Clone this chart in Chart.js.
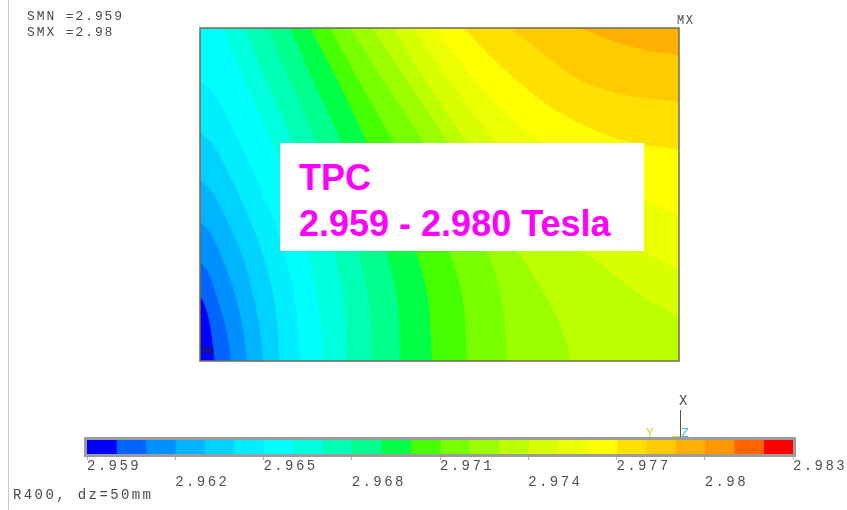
<!DOCTYPE html>
<html>
<head>
<meta charset="utf-8">
<script src="https://cdn.jsdelivr.net/npm/chart.js@4.4.1/dist/chart.umd.min.js"></script>
<style>
  html, body { margin: 0; padding: 0; background: #fff; }
  #wrap { position: relative; width: 847px; height: 510px; overflow: hidden; }
  canvas { position: absolute; left: 0; top: 0; }
  .t { position: absolute; white-space: pre; line-height: 1; font-family: "Liberation Mono", "DejaVu Sans Mono", monospace; color: #4a4a4a; }
  .rule { position: absolute; }
  #note { position: absolute; left: 280px; top: 143px; width: 364px; height: 108px; background: #fff; }
  #note div { position: absolute; left: 19px; white-space: pre; line-height: 36px; font: bold 36px "Liberation Sans", Arial, sans-serif; color: #ff00ff; }
</style>
</head>
<body>
<div id="wrap">
  <canvas id="field" width="847" height="510"></canvas>
  <canvas id="scale" width="847" height="510"></canvas>

  <div class="rule" style="left:8px;top:0;width:1px;height:510px;background:#c8c8c8"></div>
  <div class="t" style="left:27px;top:10px;font-size:13px;letter-spacing:1.9px">SMN =2.959</div>
  <div class="t" style="left:27px;top:26px;font-size:13px;letter-spacing:1.9px">SMX =2.98</div>
  <div class="t" style="left:677px;top:15px;font-size:12px;letter-spacing:1.5px">MX</div>
  <div class="t" style="left:202px;top:347px;font-size:10px;color:#2a2a2a">MN</div>
  <div class="t" style="left:13px;top:488px;font-size:14px;letter-spacing:2.4px">R400, dz=50mm</div>

  <!-- axis triad -->
  <div class="t" style="left:679px;top:394px;font-size:14px">X</div>
  <div class="rule" style="left:680px;top:410px;width:1px;height:27px;background:#555"></div>
  <div class="rule" style="left:672px;top:436px;width:8px;height:1px;background:#c8e632"></div>
  <div class="t" style="left:646px;top:427px;font-size:13px;color:#c8e632">Y</div>
  <div class="t" style="left:681px;top:427px;font-size:13px;color:#4cb4ec">Z</div>

  <div id="note">
    <div style="top:13.5px">TPC</div>
    <div style="top:59.5px">2.959 - 2.980 Tesla</div>
  </div>
</div>

<script>
// |B| contour steps (Tesla): 24 bands of 0.001 T from 2.959 to 2.983
const bandEdges = [2.959, 2.960, 2.961, 2.962, 2.963, 2.964, 2.965, 2.966, 2.967,
                   2.968, 2.969, 2.970, 2.971, 2.972, 2.973, 2.974, 2.975, 2.976,
                   2.977, 2.978, 2.979, 2.980, 2.981, 2.982, 2.983];
const bandColors = ['#0000ff', '#0064ff', '#0090ff', '#00b4ff', '#00d2ff', '#00eeff',
                    '#00ffff', '#00ffdc', '#00ffb4', '#00ff8c', '#00ff46', '#46ff00',
                    '#78ff00', '#9cff00', '#bcff00', '#d8ff00', '#ecff00', '#ffff00',
                    '#ffe100', '#ffca00', '#ffb000', '#ff9600', '#ff6400', '#ff0000'];
const tickLabels = ['2.959', '2.962', '2.965', '2.968', '2.971', '2.974', '2.977', '2.98', '2.983'];

// Plot extent: horizontal 0..479, vertical 0..333 (axis at left, mid-plane at bottom)
const extentX = [0, 479];
const extentY = [0, 333];

// Iso-lines [x, y]; everything above/right of each line is at or above its level
const iso2960 = [[0, 64], [4, 58], [8, 45], [11, 30], [13, 15], [14.5, 0]];
const iso2961 = [[0, 99], [7, 91], [14, 73], [21, 51], [27, 28], [31, 0]];
const iso2962 = [[0, 139], [10, 129], [22, 103], [33, 74], [41, 43], [47, 0]];
const iso2963 = [[0, 181], [12, 169], [27, 141], [42, 106], [53, 66], [60, 31], [63, 0]];
const iso2964 = [[0, 229], [14, 215], [32, 181], [50, 141], [65, 99], [75, 56], [80, 0]];
const iso2965 = [[0, 281], [16, 265], [36, 226], [58, 179], [78, 129], [92, 76], [98, 31], [100, 0]];
const iso2966 = [[23, 333], [40, 291], [62, 241], [84, 186], [102, 131], [115, 76], [121, 31], [123, 0]];
const iso2967 = [[45, 333], [68.5, 276], [93, 218], [114, 161], [134, 109], [144, 61], [147, 0]];
const iso2968 = [[68, 333], [92, 276], [117, 218], [139, 161], [158, 109], [169, 61], [172, 0]];
const iso2969 = [[90, 333], [115, 276], [142, 218], [165, 161], [186, 109], [197, 61], [200, 0]];
const iso2970 = [[110, 333], [140, 276], [167, 218], [193, 161], [216, 109], [228, 61], [232, 0]];
const iso2971 = [[130, 333], [161, 276], [194, 218], [223, 161], [249, 109], [263, 61], [267, 0]];
const iso2972 = [[150, 333], [186, 276], [224, 218], [257, 161], [287, 109], [302, 61], [307, 0]];
const iso2973 = [[172, 333], [210, 276], [248, 218], [284, 161], [318, 109], [348, 61], [366, 20], [370, 0]];
const iso2974 = [[193, 333], [228, 276], [268, 218], [318, 161], [383, 111], [435, 70], [479, 43]];
const iso2975 = [[213, 333], [252, 276], [297, 218], [350, 170], [410, 130], [450, 106], [479, 91]];
const iso2976 = [[233, 333], [275, 281], [325, 231], [380, 195], [435, 165], [479, 146]];
const iso2977 = [[263, 333], [305, 291], [355, 251], [415, 223], [479, 211]];
const iso2978 = [[310, 333], [345, 306], [380, 281], [425, 266], [479, 259]];
const iso2979 = [[380, 333], [410, 321], [445, 311], [479, 306]];

const isoLines = [iso2960, iso2961, iso2962, iso2963, iso2964, iso2965, iso2966,
                  iso2967, iso2968, iso2969, iso2970, iso2971, iso2972, iso2973,
                  iso2974, iso2975, iso2976, iso2977, iso2978, iso2979];

// Super-level region of a line: the line is filled up to the top edge; lines that
// reach the mid-plane are carried on below it so the fill covers the columns beyond.
const below = extentY[0] - 40;
const beyond = extentX[1] + 80;
function superLevel(line) {
  const pts = line.map(([x, y]) => ({x, y}));
  const last = line[line.length - 1];
  if (last[1] === extentY[0]) {
    pts.push({x: last[0] + 2, y: below}, {x: beyond, y: below});
  }
  return pts;
}

const fieldSets = [{
  data: [{x: extentX[0] - 40, y: below}, {x: beyond, y: below}],
  backgroundColor: bandColors[0], borderColor: bandColors[0],
  borderWidth: 0, pointRadius: 0, fill: 'end', order: 100
}];
isoLines.forEach((line, i) => {
  fieldSets.push({
    label: bandEdges[i + 1].toFixed(3),
    data: superLevel(line),
    backgroundColor: bandColors[i + 1], borderColor: bandColors[i + 1],
    borderWidth: 0, pointRadius: 0, fill: 'end', tension: 0.3,
    order: 99 - i
  });
});

const plotFrame = {
  id: 'plotFrame',
  afterDatasetsDraw(chart) {
    const {ctx, chartArea: a} = chart;
    ctx.save();
    ctx.strokeStyle = '#6f6b58';
    ctx.lineWidth = 1.5;
    ctx.strokeRect(a.left, a.top, a.right - a.left, a.bottom - a.top);
    ctx.restore();
  }
};

new Chart(document.getElementById('field'), {
  type: 'line',
  data: {datasets: fieldSets},
  options: {
    responsive: false,
    animation: false,
    events: [],
    layout: {padding: {left: 200, top: 28, right: 168, bottom: 149}},
    elements: {line: {capBezierPoints: false}},
    scales: {
      x: {type: 'linear', min: extentX[0], max: extentX[1], display: false},
      y: {type: 'linear', min: extentY[0], max: extentY[1], display: false}
    },
    plugins: {legend: {display: false}, tooltip: {enabled: false}}
  },
  plugins: [plotFrame]
});

// Colour legend: one floating bar per band along the |B| axis
const barFrame = {
  id: 'barFrame',
  beforeDraw(chart) { chart.ctx.letterSpacing = '2.4px'; },
  afterDatasetsDraw(chart) {
    const {ctx, chartArea: a} = chart;
    ctx.save();
    ctx.strokeStyle = '#9c9c9c';
    ctx.lineWidth = 3;
    ctx.strokeRect(a.left - 1.5, a.top - 1.5, a.right - a.left + 3, a.bottom - a.top + 3);
    ctx.restore();
  }
};

new Chart(document.getElementById('scale'), {
  type: 'bar',
  data: {
    labels: ['|B|'],
    datasets: bandColors.map((c, i) => ({
      data: [[bandEdges[i], bandEdges[i + 1]]],
      backgroundColor: c,
      borderWidth: 0,
      barPercentage: 1,
      categoryPercentage: 1,
      grouped: false
    }))
  },
  options: {
    indexAxis: 'y',
    responsive: false,
    animation: false,
    events: [],
    layout: {padding: {left: 87, right: 54, top: 440, bottom: 0}},
    scales: {
      x: {
        type: 'linear',
        min: bandEdges[0],
        max: bandEdges[bandEdges.length - 1],
        afterFit(scale) { scale.height = 56; scale.paddingLeft = 0; scale.paddingRight = 0; },
        border: {display: false},
        grid: {drawOnChartArea: false, drawTicks: true, tickLength: 6, color: '#b4b4b4'},
        ticks: {
          stepSize: 0.003,
          precision: 3,
          autoSkip: false,
          maxRotation: 0,
          align: 'start',
          padding: -2,
          color: '#505050',
          font: {family: '"Liberation Mono", monospace', size: 14, lineHeight: 16 / 14},
          callback: (v, i) => (i % 2 ? ['', tickLabels[i]] : tickLabels[i])
        }
      },
      y: {display: false}
    },
    plugins: {legend: {display: false}, tooltip: {enabled: false}}
  },
  plugins: [barFrame]
});
</script>
</body>
</html>
